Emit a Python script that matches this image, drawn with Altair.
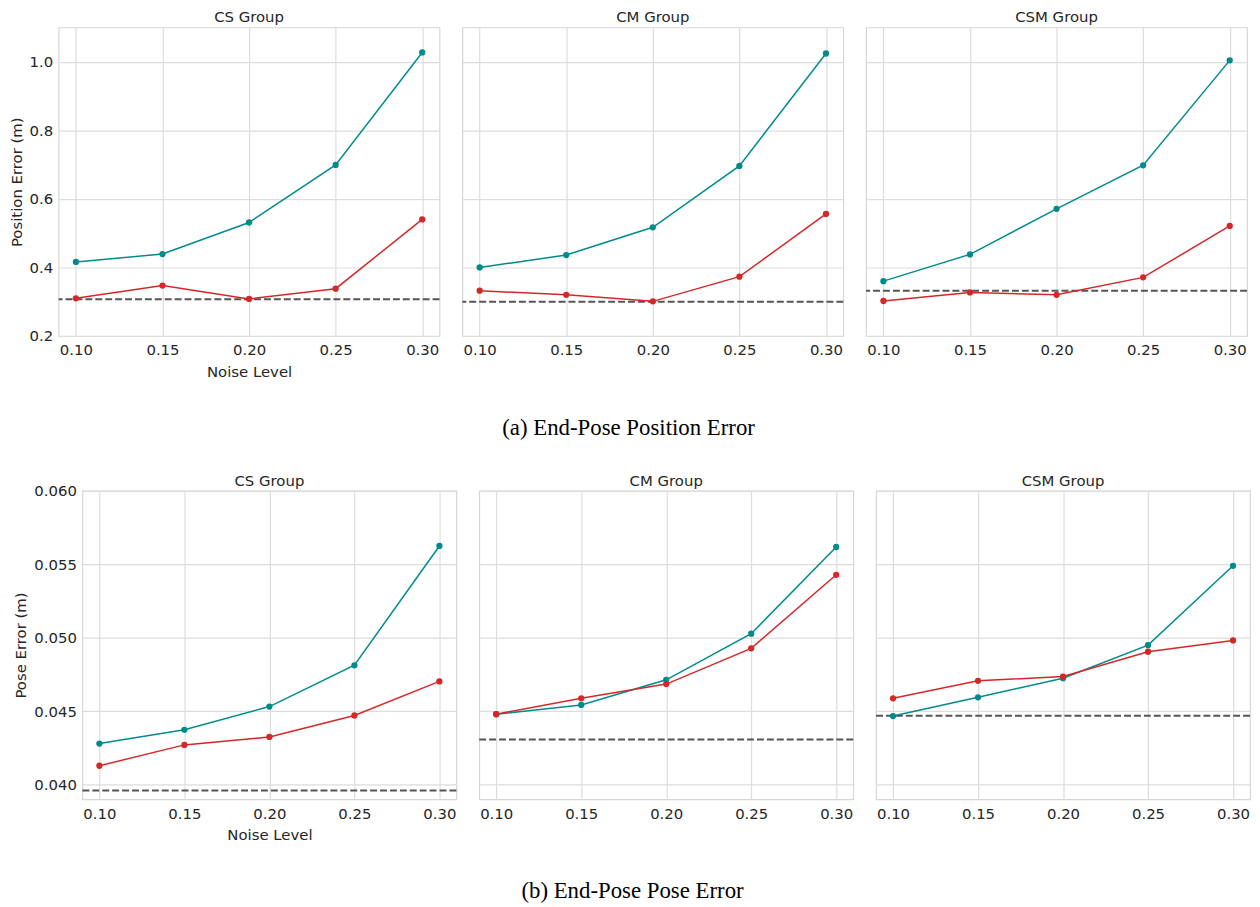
import altair as alt
import pandas as pd

# ---------------- data ----------------
noise = [0.10, 0.15, 0.20, 0.25, 0.30]
groups = ["CS Group", "CM Group", "CSM Group"]

# (a) End-Pose Position Error  (one list per group: CS, CM, CSM)
position_teal = [
    [0.416, 0.439, 0.531, 0.699, 1.027],
    [0.400, 0.436, 0.517, 0.696, 1.024],
    [0.360, 0.438, 0.571, 0.698, 1.004],
]
position_red = [
    [0.310, 0.347, 0.308, 0.338, 0.540],
    [0.332, 0.320, 0.301, 0.373, 0.556],
    [0.302, 0.327, 0.320, 0.371, 0.521],
]
position_ref = [0.307, 0.300, 0.332]

# (b) End-Pose Pose Error
pose_teal = [
    [0.04279, 0.04373, 0.04531, 0.04812, 0.05624],
    [0.04479, 0.04542, 0.04713, 0.05027, 0.05617],
    [0.04466, 0.04594, 0.04724, 0.04949, 0.05489],
]
pose_red = [
    [0.04128, 0.04270, 0.04324, 0.04470, 0.04702],
    [0.04479, 0.04587, 0.04684, 0.04927, 0.05428],
    [0.04587, 0.04706, 0.04735, 0.04904, 0.04981],
]
pose_ref = [0.03960, 0.04306, 0.04468]

position_ticks = [0.2, 0.4, 0.6, 0.8, 1.0]
pose_ticks = [0.040, 0.045, 0.050, 0.055, 0.060]

TEAL = "#008b8b"
RED = "#d62728"
REF = "#555555"
TEXT = "#262626"
FONT = "DejaVu Sans"


def panel(gi, teal, red, ref, ydomain, yticks, yfmt, ytitle, width, height,
          first_title_offset=2):
    df_teal = pd.DataFrame({"noise": noise, "value": teal[gi]})
    df_red = pd.DataFrame({"noise": noise, "value": red[gi]})
    df_ref = pd.DataFrame({"value": [ref[gi]]})

    first = gi == 0
    x = alt.X(
        "noise:Q",
        scale=alt.Scale(domain=[0.09, 0.31], nice=False, zero=False),
        axis=alt.Axis(values=noise, format=".2f", titlePadding=7, labelPadding=7),
        title="Noise Level" if first else None,
    )
    if first:
        yaxis = alt.Axis(values=yticks, format=yfmt)
    else:
        yaxis = alt.Axis(values=yticks, labels=False)
    y = alt.Y(
        "value:Q",
        scale=alt.Scale(domain=ydomain, nice=False, zero=False),
        axis=yaxis,
        title=ytitle if first else None,
    )

    rule = alt.Chart(df_ref).mark_rule(
        color=REF, strokeDash=[7, 3], strokeWidth=2
    ).encode(y=y)
    lt = alt.Chart(df_teal).mark_line(color=TEAL, strokeWidth=1.5).encode(x=x, y=y)
    pt = alt.Chart(df_teal).mark_circle(color=TEAL, size=40, opacity=1).encode(x=x, y=y)
    lr = alt.Chart(df_red).mark_line(color=RED, strokeWidth=1.5).encode(x=x, y=y)
    pr = alt.Chart(df_red).mark_circle(color=RED, size=40, opacity=1).encode(x=x, y=y)

    return alt.layer(rule, lt, pt, lr, pr).properties(
        width=width,
        height=height,
        title=alt.TitleParams(
            groups[gi], font=FONT, fontSize=15, fontWeight="normal",
            color=TEXT, offset=first_title_offset if first else 2,
        ),
    )


row_a = alt.hconcat(
    *[
        panel(i, position_teal, position_red, position_ref, [0.2, 1.1],
              position_ticks, ".1f", "Position Error (m)", 384, 311)
        for i in range(3)
    ],
    spacing=19,
).properties(
    title=alt.TitleParams(
        "(a) End-Pose Position Error", orient="bottom", anchor="middle",
        font="Liberation Serif", fontSize=23, fontWeight="normal",
        color="black", offset=37,
    )
)

row_b = alt.hconcat(
    *[
        panel(i, pose_teal, pose_red, pose_ref, [0.039, 0.060],
              pose_ticks, ".3f", "Pose Error (m)", 377, 311,
              first_title_offset=-5)
        for i in range(3)
    ],
    spacing=19,
).properties(
    title=alt.TitleParams(
        "(b) End-Pose Pose Error", orient="bottom", anchor="middle",
        font="Liberation Serif", fontSize=23, fontWeight="normal",
        color="black", offset=37,
    )
)

# invisible 1px cell so the lower row's axis can sit flush with the page edge
spacer = alt.Chart(pd.DataFrame({"v": [0]})).mark_point(opacity=0).encode(
    x=alt.value(0), y=alt.value(0)
).properties(width=1, height=1, view=alt.ViewBackground(stroke="transparent"))

row_b_wrapped = alt.hconcat(spacer, row_b, spacing=-50)

chart = alt.vconcat(row_a, row_b_wrapped, spacing=33).properties(
    padding={"left": 0, "top": -2, "right": 0, "bottom": 0},
    background="white",
).configure_view(
    stroke="#d6d6d6", strokeWidth=1.2
).configure_axis(
    grid=True, gridColor="#dddddd", gridWidth=1.2, domain=False, ticks=False,
    labelFont=FONT, labelFontSize=15, labelColor=TEXT,
    titleFont=FONT, titleFontSize=15, titleFontWeight="normal", titleColor=TEXT,
    labelPadding=6, titlePadding=5,
)

chart.save("out.html", embed_options={"renderer": "svg", "actions": False})
